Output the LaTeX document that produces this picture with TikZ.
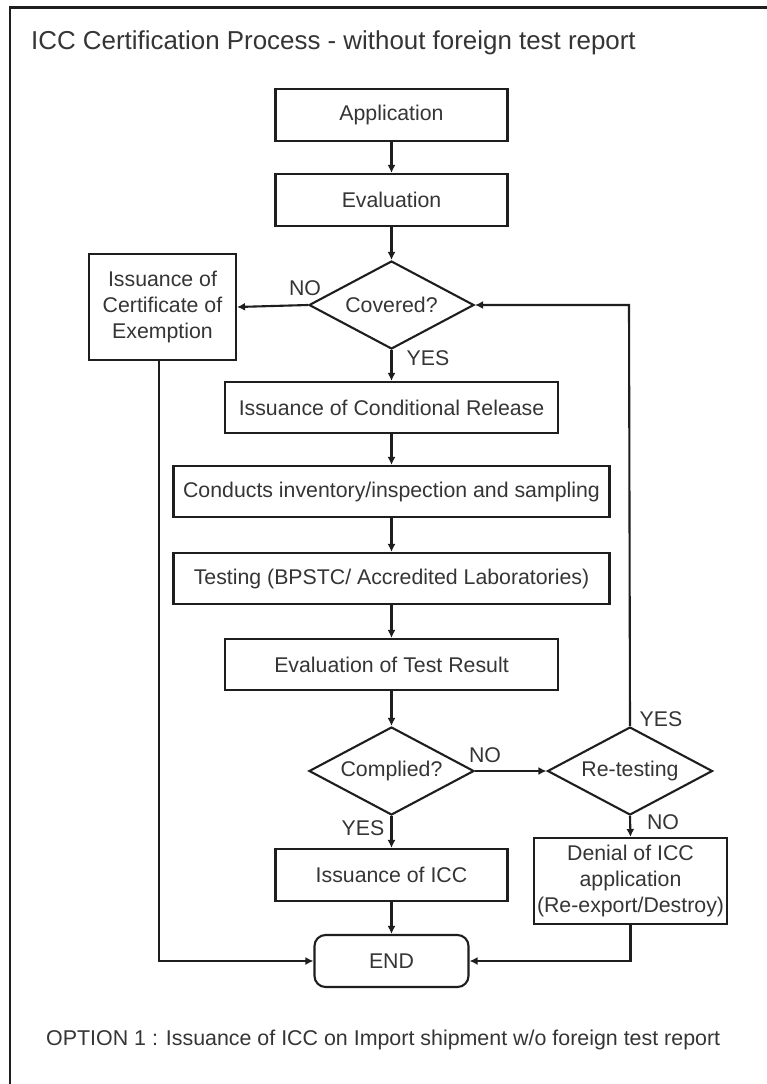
\documentclass[tikz,border=0pt]{standalone}
\usepackage{fontspec}
\setmainfont{Liberation Sans}
\usetikzlibrary{shapes.geometric,arrows.meta}
\definecolor{txt}{HTML}{353535}
\definecolor{ln}{HTML}{1E1E1E}
\tikzset{
  box/.style={draw=ln, line width=2.1pt, rectangle, inner sep=0pt, anchor=center,
    align=center, text=txt, font=\fontsize{21.3}{25.8}\selectfont},
  dec/.style={draw=ln, line width=2.1pt, diamond, aspect=1.875, inner sep=0pt,
    minimum width=165pt, minimum height=88pt, text=txt, font=\fontsize{21.3}{25.8}\selectfont},
  lbl/.style={text=txt, inner sep=0pt, font=\fontsize{21.3}{25}\selectfont},
  arr/.style={draw=ln, line width=2.1pt, -{Latex[length=8pt,width=8pt]}},
  conn/.style={draw=ln, line width=2.1pt}
}
\begin{document}
\begin{tikzpicture}[x=1pt,y=-1pt]
\useasboundingbox (0,0) rectangle (767,1084);
\fill[white] (0,0) rectangle (767,1084);
\draw[ln, line width=2.6pt] (10,1084) -- (10,7.5) -- (767,7.5);

\node[lbl, anchor=base west, font=\fontsize{25.9}{30}\selectfont] (title) at (31,49)
  {ICC Certification Process - without foreign test report};

\node[box, minimum width=232pt, minimum height=52pt] (app) at (391.5,115) {Application};
\node[box, minimum width=232pt, minimum height=52pt] (eva) at (391.5,200) {Evaluation};
\node[dec] (cov) at (391.5,305) {Covered?};
\node[box, minimum width=147pt, minimum height=106pt] (exm) at (162.5,307)
  {Issuance of\\Certificate of\\Exemption};
\node[box, minimum width=333pt, minimum height=51pt] (cnd) at (391.5,407.5) {Issuance of Conditional Release};
\node[box, minimum width=436pt, minimum height=51pt] (inv) at (391.5,491.5) {Conducts inventory/inspection and sampling};
\node[box, minimum width=436pt, minimum height=51pt] (tst) at (391.5,578.5) {Testing (BPSTC/ Accredited Laboratories)};
\node[box, minimum width=333pt, minimum height=51pt] (etr) at (391.5,664.5) {Evaluation of Test Result};
\node[dec] (cmp) at (391.5,771) {Complied?};
\node[dec] (ret) at (630,771) {Re-testing};
\node[box, minimum width=232pt, minimum height=52pt] (icc) at (391.5,875) {Issuance of ICC};
\node[box, minimum width=193pt, minimum height=86pt] (den) at (630.5,881)
  {Denial of ICC\\application\\(Re-export/Destroy)};
\node[box, rounded corners=11pt, minimum width=154pt, minimum height=52pt] (end) at (391.5,961) {END};

\node[lbl] (no1) at (305,288) {NO};
\node[lbl] (yes1) at (428,358) {YES};
\node[lbl] (no2) at (485,755) {NO};
\node[lbl] (yes2) at (363,828) {YES};
\node[lbl] (yes3) at (661,719) {YES};
\node[lbl] (no3) at (663,822) {NO};

\node[lbl, anchor=base west, font=\fontsize{21.4}{25}\selectfont] (opt) at (46,1045)
  {OPTION 1 : Issuance of ICC on Import shipment w/o foreign test report};

\coordinate (rtop) at (629,305);
\coordinate (exb) at (159,961);
\coordinate (exs) at (159,360);

\draw[arr] (app.south) -- (eva.north);
\draw[arr] (eva.south) -- (cov.north);
\draw[arr] (cov.west) -- (exm.east);
\draw[arr] (cov.south) -- (cnd.north);
\draw[arr] (cnd.south) -- (inv.north);
\draw[arr] (inv.south) -- (tst.north);
\draw[arr] (tst.south) -- (etr.north);
\draw[arr] (etr.south) -- (cmp.north);
\draw[arr] (cmp.east) -- (ret.west);
\draw[arr] (cmp.south) -- (icc.north);
\draw[arr] (ret.south) -- (den.north);
\draw[arr] (ret.north) -- (rtop) -- (cov.east);
\draw[arr] (icc.south) -- (end.north);
\draw[arr] (exs) -- (exb) -- (end.west);
\draw[arr] (den.south) -- (den.south |- end.east) -- (end.east);
\end{tikzpicture}
\end{document}
